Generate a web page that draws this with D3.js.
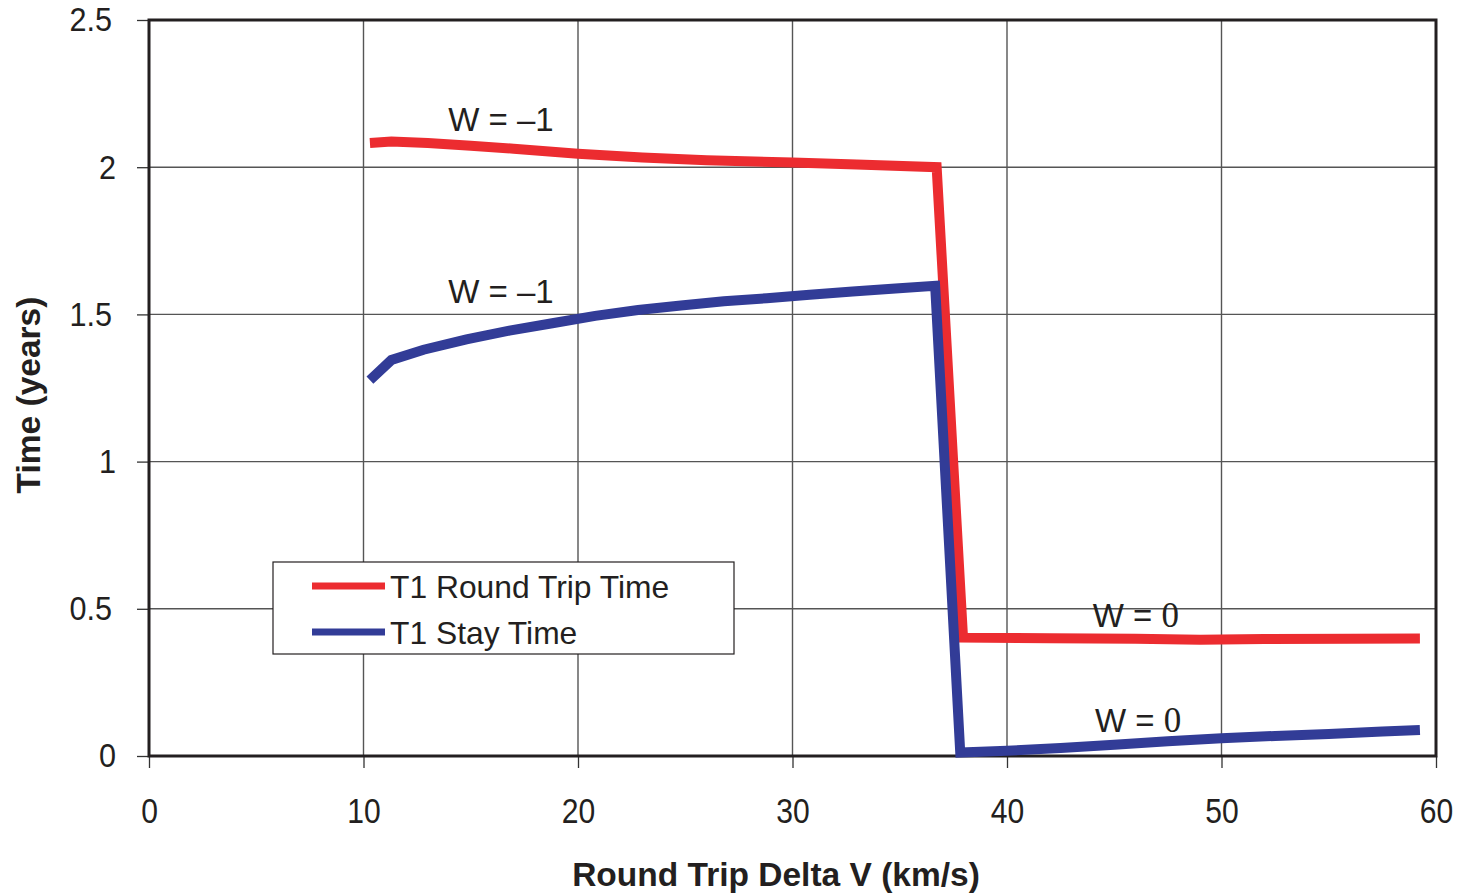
<!DOCTYPE html>
<html>
<head>
<meta charset="utf-8">
<script src="https://cdn.jsdelivr.net/npm/d3@7"></script>
<style>
  html, body { margin: 0; padding: 0; background: #fff; }
  svg { display: block; }
</style>
</head>
<body>
<svg id="chart" width="1459" height="893"></svg>
<script>
// Round trip time (years) vs round trip delta V (km/s)
const roundTripDV   = [10.3, 11.3, 13, 15, 17, 20, 23, 26, 30, 33, 36.72, 37.95, 42, 46, 49, 52, 56, 59.25];
const roundTripTime = [2.082, 2.087, 2.082, 2.073, 2.063, 2.046, 2.033, 2.024, 2.016, 2.009, 2.0, 0.402, 0.4, 0.398, 0.395, 0.397, 0.398, 0.399];

// Stay time (years) vs round trip delta V (km/s)
const stayDV   = [10.3, 11.3, 12.8, 14.8, 16.8, 18.8, 20.8, 22.8, 24.8, 26.8, 28.8, 30.8, 32.8, 34.8, 36.65, 37.82, 40, 42.5, 45, 47.5, 50, 52.5, 55, 57.5, 59.25];
const stayTime = [1.277, 1.345, 1.38, 1.415, 1.445, 1.47, 1.495, 1.515, 1.53, 1.545, 1.555, 1.567, 1.578, 1.588, 1.597, 0.012, 0.018, 0.027, 0.038, 0.05, 0.06, 0.068, 0.075, 0.083, 0.088];

const xTicks = [0, 10, 20, 30, 40, 50, 60];
const yTicks = [0, 0.5, 1, 1.5, 2, 2.5];
const yTickLabels = ["0", "0.5", "1", "1.5", "2", "2.5"];

const seriesNames = ["T1 Round Trip Time", "T1 Stay Time"];
const seriesColors = ["#ec2c30", "#323c97"];

// Curve annotations (anchored at the text baseline start)
const annotations = [
  { x: 13.95, y: 2.123, text: "W = \u20131", serif: false },
  { x: 13.95, y: 1.539, text: "W = \u20131", serif: false },
  { x: 44.0, y: 0.438, text: "W = 0", serif: true },
  { x: 44.1, y: 0.0815, text: "W = 0", serif: true }
];

const svg = d3.select("#chart");
const plotLeft = 149, plotRight = 1436, plotTop = 20, plotBottom = 756;

const x = d3.scaleLinear().domain([0, 60]).range([plotLeft, plotRight]);
const y = d3.scaleLinear().domain([0, 2.5]).range([plotBottom, plotTop]);

const textColor = "#231f20";

// Gridlines
const grid = svg.append("g");
grid.selectAll("line.v").data(xTicks.slice(1, -1)).join("line")
  .attr("class", "v")
  .attr("x1", d => x(d)).attr("x2", d => x(d))
  .attr("y1", plotTop).attr("y2", plotBottom)
  .attr("stroke", "#555").attr("stroke-width", 1.4);
grid.selectAll("line.h").data(yTicks.slice(1, -1)).join("line")
  .attr("class", "h")
  .attr("x1", plotLeft).attr("x2", plotRight)
  .attr("y1", d => y(d)).attr("y2", d => y(d))
  .attr("stroke", "#555").attr("stroke-width", 1.4);

// Axes
const xAxis = d3.axisBottom(x).tickValues(xTicks).tickSize(12).tickFormat(d3.format("d"));
const gx = svg.append("g").attr("transform", `translate(0,${plotBottom})`).call(xAxis);
gx.select(".domain").remove();
gx.selectAll(".tick line").attr("stroke", "#333").attr("stroke-width", 1.3);
gx.selectAll(".tick text")
  .attr("y", 42).attr("dy", "0.71em")
  .attr("transform", "scale(0.86,1)")
  .attr("fill", textColor)
  .style("font-family", "'Liberation Sans', Arial, sans-serif")
  .style("font-size", "35px");

const yAxis = d3.axisLeft(y).tickValues(yTicks).tickSize(12)
  .tickFormat((d, i) => yTickLabels[i]);
const gy = svg.append("g").attr("transform", `translate(${plotLeft},0)`).call(yAxis);
gy.select(".domain").remove();
gy.selectAll(".tick line").attr("stroke", "#333").attr("stroke-width", 1.3);
// Whole-number labels sit a little further right than the decimal ones
gy.selectAll(".tick text")
  .attr("x", d => (Number.isInteger(d) ? -33 : -37) / 0.9)
  .attr("transform", "scale(0.9,1)")
  .attr("fill", textColor)
  .style("font-family", "'Liberation Sans', Arial, sans-serif")
  .style("font-size", "34px");

// Plot frame
svg.append("rect")
  .attr("x", plotLeft).attr("y", plotTop)
  .attr("width", plotRight - plotLeft).attr("height", plotBottom - plotTop)
  .attr("fill", "none").attr("stroke", "#231f20").attr("stroke-width", 3);

// Series lines
const line = d3.line().x(d => x(d[0])).y(d => y(d[1]));
const series = [
  d3.zip(roundTripDV, roundTripTime),
  d3.zip(stayDV, stayTime)
];
svg.append("g").selectAll("path").data(series).join("path")
  .attr("d", line)
  .attr("fill", "none")
  .attr("stroke", (d, i) => seriesColors[i])
  .attr("stroke-width", 10)
  .attr("stroke-linejoin", "miter")
  .attr("stroke-miterlimit", 10);

// Curve annotations
svg.append("g").selectAll("text").data(annotations).join("text")
  .attr("x", d => x(d.x)).attr("y", d => y(d.y))
  .attr("fill", textColor)
  .style("font-size", "33px")
  .style("font-family", "'Liberation Sans', Arial, sans-serif")
  .each(function(d) {
    const t = d3.select(this);
    if (d.serif) {
      t.append("tspan").text("W = ");
      t.append("tspan").style("font-family", "'Liberation Serif', 'Times New Roman', serif")
        .style("font-size", "35px").text("0");
    } else {
      t.text(d.text);
    }
  });

// Legend
const lg = svg.append("g").attr("transform", "translate(273,562)");
lg.append("rect").attr("width", 461).attr("height", 92)
  .attr("fill", "#fff").attr("stroke", "#231f20").attr("stroke-width", 1.2);
const items = lg.selectAll("g.item").data(seriesNames).join("g")
  .attr("class", "item")
  .attr("transform", (d, i) => `translate(0,${24 + i * 46})`);
items.append("line")
  .attr("x1", 39).attr("x2", 112).attr("y1", 0).attr("y2", 0)
  .attr("stroke", (d, i) => seriesColors[i]).attr("stroke-width", 7);
items.append("text")
  .attr("x", 117).attr("y", 1).attr("dy", "0.36em")
  .attr("fill", textColor)
  .style("font-family", "'Liberation Sans', Arial, sans-serif")
  .style("font-size", "31.8px")
  .text(d => d);

// Axis titles
svg.append("text")
  .attr("x", 776).attr("y", 886)
  .attr("text-anchor", "middle")
  .attr("fill", textColor)
  .style("font-family", "'Liberation Sans', Arial, sans-serif")
  .style("font-weight", "bold")
  .style("font-size", "33.5px")
  .text("Round Trip Delta V (km/s)");

svg.append("text")
  .attr("transform", "translate(40,395) rotate(-90)")
  .attr("text-anchor", "middle")
  .attr("fill", textColor)
  .style("font-family", "'Liberation Sans', Arial, sans-serif")
  .style("font-weight", "bold")
  .style("font-size", "33.5px")
  .text("Time (years)");
</script>
</body>
</html>
